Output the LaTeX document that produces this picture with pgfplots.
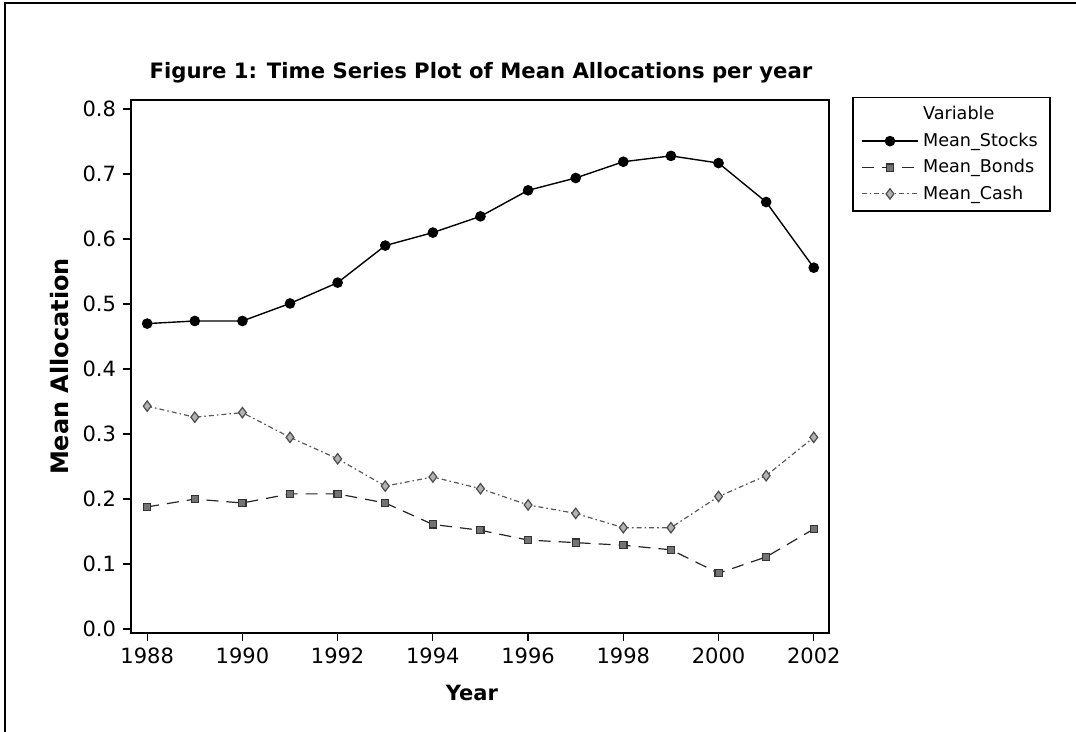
\documentclass[border=0pt]{standalone}
\usepackage{pgfplots}
\pgfplotsset{compat=1.18}
\usepackage{fontspec}
\setmainfont{DejaVu Sans}
\begin{document}
\begin{tikzpicture}
\useasboundingbox (0,0) rectangle (538pt,366pt);
\draw[line width=0.8pt] (2.5pt,0) -- (2.5pt,364.5pt) -- (538pt,364.5pt);
\node[font=\bfseries\fontsize{10.6}{12}\selectfont] at (240.5pt,329.5pt) {Figure 1: Time Series Plot of Mean Allocations per year};
\begin{axis}[
  at={(65.5pt,49.5pt)}, anchor=south west,
  width=349pt, height=266.5pt, scale only axis,
  xmin=1987.66, xmax=2002.32, ymin=-0.006, ymax=0.814,
  xtick={1988,1990,...,2002},
  ytick={0,0.1,...,0.8},
  yticklabel style={/pgf/number format/.cd,fixed,fixed zerofill,precision=1},
  xticklabel style={/pgf/number format/1000 sep={}},
  /pgf/number format/assume math mode=true,
  tick label style={font=\fontsize{10.5}{12}\selectfont},
  tick align=outside, tick pos=left,
  major tick length=4pt,
  axis line style={line width=0.8pt},
  every tick/.style={black, line width=0.6pt},
  xlabel={Year}, ylabel={Mean Allocation},
  xlabel style={font=\bfseries\fontsize{10.5}{12}\selectfont, at={(rel axis cs:0.4885,-0.1126)}, anchor=center},
  ylabel style={font=\bfseries\fontsize{12}{14}\selectfont, at={(rel axis cs:-0.1017,0.5)}, anchor=center, rotate=0},
  legend style={at={(rel axis cs:1.033,1.006)}, anchor=north west,
    font=\fontsize{8.8}{10}\selectfont, draw=black, line width=0.8pt,
    inner xsep=4pt, inner ysep=2.5pt, row sep=1.0pt, cells={anchor=west}},
  legend image code/.code={
    \draw[mark repeat=2,mark phase=2] plot coordinates {(0cm,0cm) (0.5cm,0cm) (1.0cm,0cm)};
  },
]
\addlegendimage{legend image code/.code={}}
\addlegendentry{Variable}
\addplot[black, line width=0.7pt, mark=*, mark size=2.3pt, mark options={solid, fill=black}] coordinates {
(1988,0.470) (1989,0.474) (1990,0.474) (1991,0.501) (1992,0.533) (1993,0.590) (1994,0.610)
(1995,0.635) (1996,0.675) (1997,0.694) (1998,0.719) (1999,0.728) (2000,0.717) (2001,0.657) (2002,0.556)};
\addlegendentry{Mean\_Stocks}
\addplot[black!85, line width=0.6pt, dash pattern=on 6pt off 4pt, mark=square*, mark size=1.8pt, mark options={solid, fill=black!55, draw=black!80}] coordinates {
(1988,0.188) (1989,0.200) (1990,0.194) (1991,0.208) (1992,0.208) (1993,0.194) (1994,0.161)
(1995,0.152) (1996,0.137) (1997,0.133) (1998,0.129) (1999,0.122) (2000,0.086) (2001,0.111) (2002,0.154)};
\addlegendentry{Mean\_Bonds}
\addplot[black!65, line width=0.6pt, dash pattern=on 2.5pt off 1.5pt on 0.8pt off 1.5pt, mark=diamond*, mark size=2.6pt, mark options={solid, fill=black!30, draw=black!70}] coordinates {
(1988,0.343) (1989,0.326) (1990,0.333) (1991,0.295) (1992,0.262) (1993,0.220) (1994,0.234)
(1995,0.216) (1996,0.191) (1997,0.178) (1998,0.156) (1999,0.156) (2000,0.204) (2001,0.236) (2002,0.295)};
\addlegendentry{Mean\_Cash}
\end{axis}
\end{tikzpicture}
\end{document}
